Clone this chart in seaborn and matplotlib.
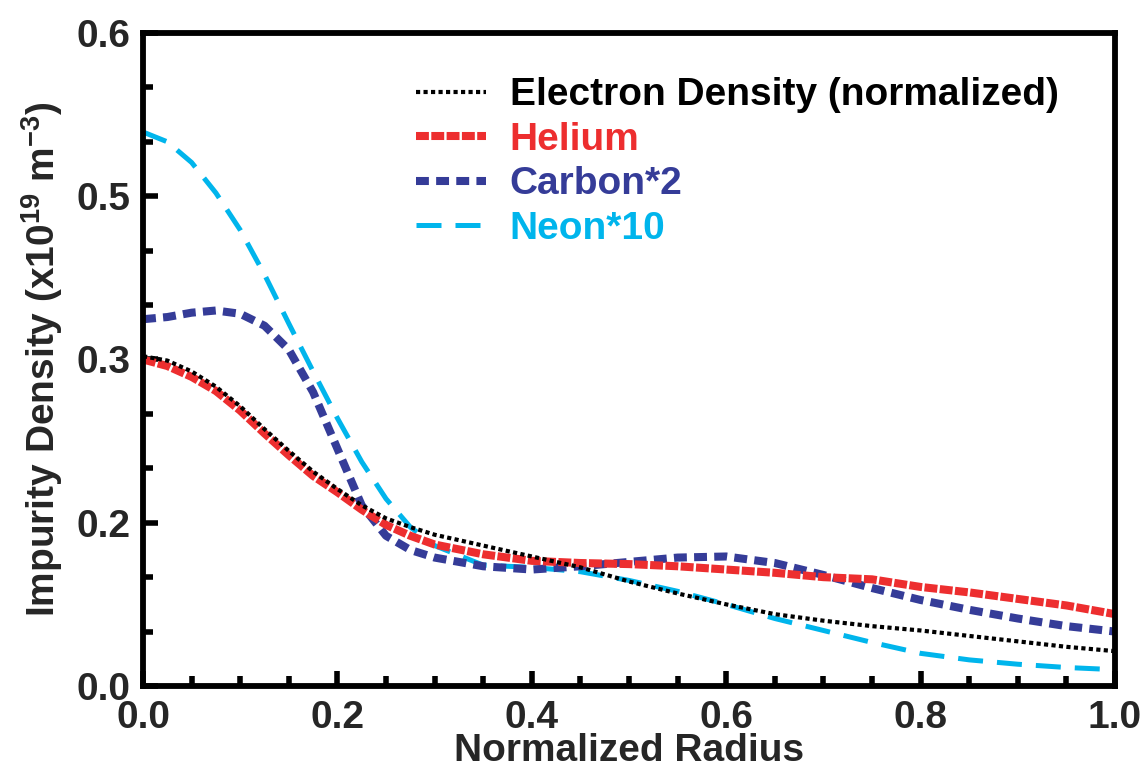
import numpy as np
import pandas as pd
import matplotlib
matplotlib.use("Agg")
import matplotlib.pyplot as plt
from matplotlib.ticker import MultipleLocator, FixedLocator
import seaborn as sns

# Radial profiles (normalized radius)
radius = [0.0, 0.025, 0.05, 0.075, 0.1, 0.125, 0.15, 0.175, 0.2, 0.225, 0.25,
          0.275, 0.3, 0.35, 0.4, 0.45, 0.5, 0.55, 0.6, 0.65, 0.7, 0.75, 0.8,
          0.85, 0.9, 0.95, 1.0]

electron = [0.303, 0.299, 0.289, 0.275, 0.257, 0.236, 0.216, 0.197, 0.181,
            0.166, 0.154, 0.146, 0.139, 0.129, 0.119, 0.109, 0.096, 0.085,
            0.075, 0.066, 0.060, 0.055, 0.051, 0.046, 0.041, 0.036, 0.032]

helium = [0.300, 0.294, 0.284, 0.271, 0.253, 0.232, 0.212, 0.193, 0.178,
          0.162, 0.148, 0.138, 0.130, 0.121, 0.115, 0.113, 0.112, 0.110,
          0.107, 0.104, 0.100, 0.098, 0.091, 0.086, 0.080, 0.074, 0.066]

carbon_x2 = [0.337, 0.339, 0.343, 0.345, 0.342, 0.331, 0.309, 0.270, 0.218,
             0.166, 0.138, 0.125, 0.118, 0.110, 0.107, 0.110, 0.114, 0.118,
             0.119, 0.113, 0.102, 0.090, 0.079, 0.070, 0.062, 0.055, 0.050]

neon_x10 = [0.509, 0.500, 0.481, 0.453, 0.419, 0.378, 0.333, 0.289, 0.246,
            0.206, 0.172, 0.146, 0.129, 0.111, 0.109, 0.105, 0.097, 0.087,
            0.075, 0.062, 0.051, 0.040, 0.030, 0.024, 0.020, 0.017, 0.015]

series_names = ["Electron Density (normalized)", "Helium", "Carbon*2", "Neon*10"]
series_values = [electron, helium, carbon_x2, neon_x10]

y_ticks = [0.0, 0.15, 0.3, 0.45, 0.6]
y_tick_labels = ["0.0", "0.2", "0.3", "0.5", "0.6"]
x_ticks = [0.0, 0.2, 0.4, 0.6, 0.8, 1.0]
x_tick_labels = ["0.0", "0.2", "0.4", "0.6", "0.8", "1.0"]

colors = ["#000000", "#ED2E2F", "#353C98", "#00B5EC"]
widths = [3.0, 5.8, 5.8, 3.6]
dash_patterns = [(0, (1.0, 0.8)), (0, (1.6, 0.3)), (0, (1.6, 0.9)), (0, (5.0, 2.8))]

df = pd.DataFrame({
    "radius": radius * len(series_names),
    "density": sum(series_values, []),
    "series": [n for n in series_names for _ in radius],
})

sns.set_style("white")
plt.rcParams["font.family"] = ["Liberation Sans Narrow", "Liberation Sans", "DejaVu Sans"]
plt.rcParams["font.weight"] = "bold"
plt.rcParams["mathtext.default"] = "regular"

fig = plt.figure(figsize=(11.46, 7.74), dpi=100)
ax = fig.add_axes([0.1248, 0.1137, 0.8482, 0.8437])

# draw in reverse so the electron trace sits on top
for name, color, lw, ls in reversed(list(zip(series_names, colors, widths, dash_patterns))):
    sub = df[df["series"] == name]
    sns.lineplot(data=sub, x="radius", y="density", ax=ax, color=color,
                 linewidth=lw, linestyle=ls, label=name, sort=True)

ax.set_xlim(0, 1.0)
ax.set_ylim(0, 0.6)

ax.xaxis.set_major_locator(FixedLocator(x_ticks))
ax.set_xticklabels(x_tick_labels)
ax.xaxis.set_minor_locator(MultipleLocator(0.05))
ax.yaxis.set_major_locator(FixedLocator(y_ticks))
ax.set_yticklabels(y_tick_labels)
ax.yaxis.set_minor_locator(MultipleLocator(0.05))

ax.tick_params(axis="both", which="major", direction="in", length=11, width=4,
               labelsize=28, color="black", top=False, right=False,
               bottom=True, left=True)
ax.tick_params(axis="both", which="minor", direction="in", length=7, width=4,
               color="black", top=False, right=False, bottom=True, left=True)
ax.tick_params(axis="x", which="major", pad=10)
ax.tick_params(axis="y", which="major", pad=9)
for lbl in ax.get_xticklabels() + ax.get_yticklabels():
    lbl.set_fontweight("bold")

for sp in ax.spines.values():
    sp.set_visible(True)
    sp.set_linewidth(4.2)
    sp.set_color("black")

ax.set_xlabel("Normalized Radius", fontsize=28, fontweight="bold", labelpad=-2)
ax.set_ylabel("Impurity Density (x10$^{19}$ m$^{-3}$)", fontsize=28,
              fontweight="bold", labelpad=8)

handles, labels = ax.get_legend_handles_labels()
order = [labels.index(n) for n in series_names]
leg = ax.legend([handles[i] for i in order], [labels[i] for i in order],
                loc="upper right", bbox_to_anchor=(0.978, 0.986), frameon=False,
                handlelength=1.8, handletextpad=0.6,
                labelspacing=0.22, labelcolor="linecolor",
                prop={"weight": "bold", "size": 28})
ax.grid(False)

fig.savefig("out.png", dpi=100)
